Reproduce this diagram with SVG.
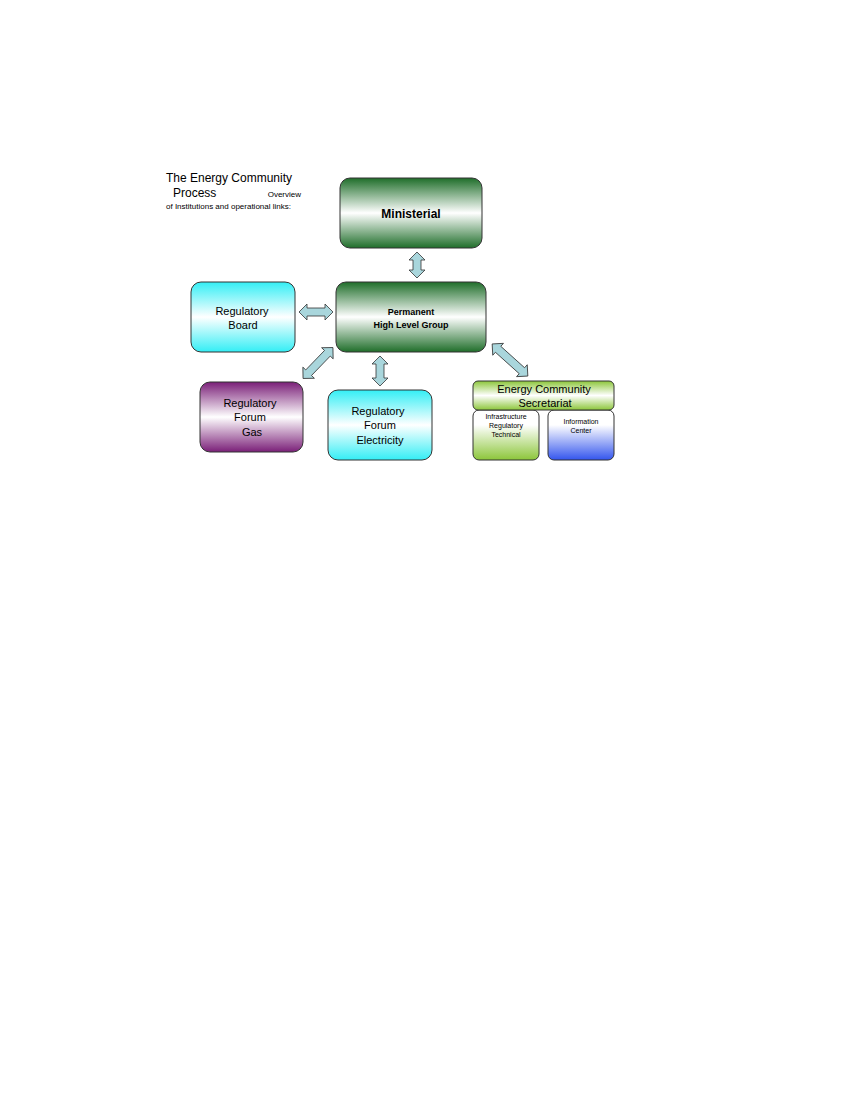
<svg xmlns="http://www.w3.org/2000/svg" width="850" height="1100" viewBox="0 0 850 1100">
<defs>
<linearGradient id="gDark" x1="0" y1="0" x2="0" y2="1"><stop offset="0" stop-color="#1f6e2a"/><stop offset="0.5" stop-color="#ffffff"/><stop offset="1" stop-color="#1f6e2a"/></linearGradient>
<linearGradient id="gCyan" x1="0" y1="0" x2="0" y2="1"><stop offset="0" stop-color="#33eef5"/><stop offset="0.5" stop-color="#ffffff"/><stop offset="1" stop-color="#33eef5"/></linearGradient>
<linearGradient id="gPurp" x1="0" y1="0" x2="0" y2="1"><stop offset="0" stop-color="#7a1f78"/><stop offset="0.5" stop-color="#ffffff"/><stop offset="1" stop-color="#7a1f78"/></linearGradient>
<linearGradient id="gLime" x1="0" y1="0" x2="0" y2="1"><stop offset="0" stop-color="#8cc63a"/><stop offset="0.5" stop-color="#ffffff"/><stop offset="1" stop-color="#8cc63a"/></linearGradient>
<linearGradient id="gLimeUp" x1="0" y1="0" x2="0" y2="1"><stop offset="0" stop-color="#ffffff"/><stop offset="0.3" stop-color="#ffffff"/><stop offset="1" stop-color="#8cc63a"/></linearGradient>
<linearGradient id="gBlue" x1="0" y1="0" x2="0" y2="1"><stop offset="0" stop-color="#ffffff"/><stop offset="0.3" stop-color="#ffffff"/><stop offset="1" stop-color="#3355ee"/></linearGradient>
</defs>
<style>
text{font-family:"Liberation Sans",Arial,sans-serif;fill:#000}
.box{stroke:#333;stroke-width:1}
.arr{fill:#a9d6dc;stroke:#333;stroke-width:0.8}
.n{font-size:11px;text-anchor:middle}
.s{font-size:7px;text-anchor:middle}
</style>
<rect width="850" height="1100" fill="#fff"/>
<g id="title">
<text x="166" y="182" font-size="12">The Energy Community</text>
<text x="173" y="197" font-size="12">Process</text>
<text x="301" y="197" font-size="8" text-anchor="end">Overview</text>
<text x="166" y="209" font-size="8">of Institutions and operational links:</text>
</g>
<g id="connectors">
<polygon class="arr" transform="translate(417,265) rotate(90)" points="-13,0 -5,-8 -5,-4 5,-4 5,-8 13,0 5,8 5,4 -5,4 -5,8"/>
<polygon class="arr" transform="translate(316,312)" points="-17,0 -9,-8 -9,-4 9,-4 9,-8 17,0 9,8 9,4 -9,4 -9,8"/>
<polygon class="arr" transform="translate(318,363) rotate(-46)" points="-21.5,0 -13.5,-8 -13.5,-4 13.5,-4 13.5,-8 21.5,0 13.5,8 13.5,4 -13.5,4 -13.5,8"/>
<polygon class="arr" transform="translate(380,371) rotate(90)" points="-15,0 -7,-8 -7,-4 7,-4 7,-8 15,0 7,8 7,4 -7,4 -7,8"/>
<polygon class="arr" transform="translate(510,360) rotate(42)" points="-24,0 -16,-8 -16,-4 16,-4 16,-8 24,0 16,8 16,4 -16,4 -16,8"/>
</g>
<g id="ministerial">
<rect class="box" x="340" y="178" width="142" height="70" rx="10" fill="url(#gDark)"/>
<text x="411" y="218" font-size="12" font-weight="bold" text-anchor="middle">Ministerial</text>
</g>
<g id="phlg">
<rect class="box" x="336" y="282" width="150" height="70" rx="10" fill="url(#gDark)"/>
<text x="411" y="315" font-size="9" font-weight="bold" text-anchor="middle">Permanent</text>
<text x="411" y="328" font-size="9" font-weight="bold" text-anchor="middle">High Level Group</text>
</g>
<g id="board">
<rect class="box" x="191" y="282" width="104" height="70" rx="10" fill="url(#gCyan)"/>
<text class="n" x="242" y="315">Regulatory</text>
<text class="n" x="243" y="329">Board</text>
</g>
<g id="gas">
<rect class="box" x="200" y="382" width="103" height="70" rx="10" fill="url(#gPurp)"/>
<text class="n" x="250" y="407">Regulatory</text>
<text class="n" x="250" y="421">Forum</text>
<text class="n" x="252" y="436">Gas</text>
</g>
<g id="elec">
<rect class="box" x="328" y="390" width="104" height="70" rx="10" fill="url(#gCyan)"/>
<text class="n" x="378" y="415">Regulatory</text>
<text class="n" x="380" y="429">Forum</text>
<text class="n" x="380" y="444">Electricity</text>
</g>
<g id="ecs">
<rect class="box" x="473" y="410" width="66" height="50" rx="6" fill="url(#gLimeUp)"/>
<rect class="box" x="548" y="410" width="66" height="50" rx="6" fill="url(#gBlue)"/>
<rect class="box" x="473" y="381" width="141" height="29" rx="5" fill="url(#gLime)"/>
<text class="n" x="544" y="393">Energy Community</text>
<text class="n" x="545" y="407">Secretariat</text>
<text class="s" x="506" y="419">Infrastructure</text>
<text class="s" x="506" y="428">Regulatory</text>
<text class="s" x="506" y="437">Technical</text>
<text class="s" x="581" y="424">Information</text>
<text class="s" x="581" y="433">Center</text>
</g>
</svg>
